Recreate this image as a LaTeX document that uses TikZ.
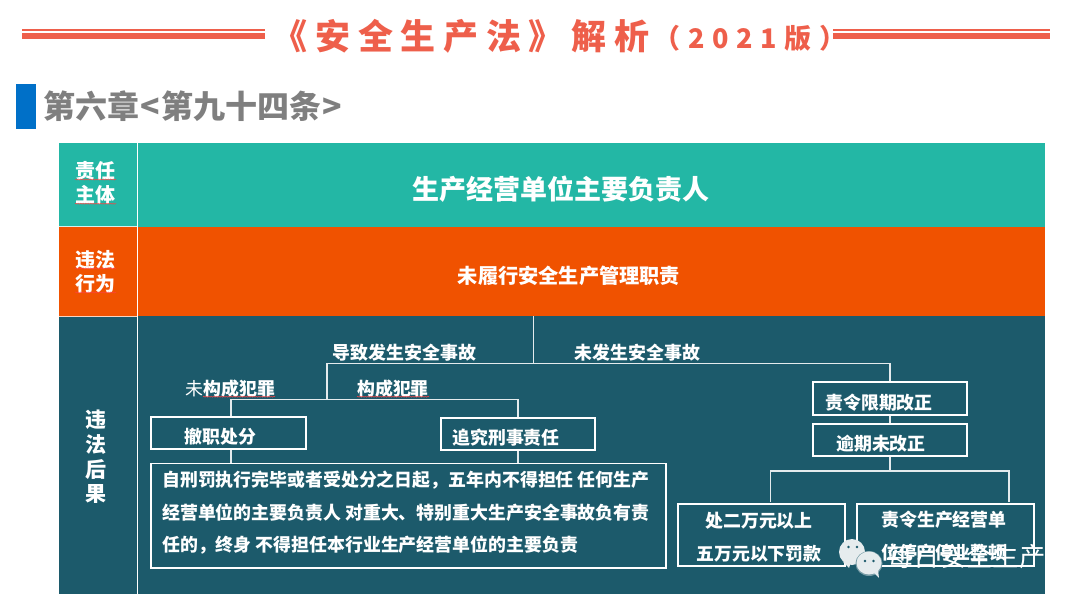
\documentclass[tikz,border=0pt]{standalone}
\usepackage{fontspec}
\setmainfont{Noto Sans CJK SC}
\usetikzlibrary{decorations.pathmorphing}
\definecolor{titlered}{HTML}{EE5F4B}
\definecolor{headgray}{HTML}{7F7F7F}
\definecolor{headblue}{HTML}{0070C8}
\definecolor{rowteal}{HTML}{23B7A5}
\definecolor{roworange}{HTML}{F05200}
\definecolor{rowdark}{HTML}{1C5A6B}
\definecolor{wechat}{HTML}{E6ECEE}
\newcommand{\fs}[1]{\fontsize{#1}{#1}\selectfont}
\newcommand{\fsl}[2]{\fontsize{#1}{#2}\selectfont}
\tikzset{
    cell/.style={anchor=north west, inner sep=0pt, outer sep=0pt},
    txt/.style={inner sep=0pt, text=white, font=\fs{17.9}\bfseries},
    sidetxt/.style={txt, font=\fsl{20}{24.5}\bfseries, align=center},
    resbox/.style={draw=white, line width=1.8pt, inner sep=0pt},
    link/.style={draw=white!88!rowdark, line width=1.6pt},
    squig/.style={draw=red!75, line width=.5pt, decorate, decoration={snake, segment length=2.5pt, amplitude=.5pt}}
}
\begin{document}
\begin{tikzpicture}[x=1pt,y=-1pt]
    \useasboundingbox (0,0) rectangle (1080,607);
    % title
    \fill[titlered] (22,29.5) rectangle (265,31);
    \fill[titlered] (22,33) rectangle (265,38.7);
    \fill[titlered] (833,29.5) rectangle (1050,31);
    \fill[titlered] (833,33) rectangle (1050,38.7);
    \node[inner sep=0pt, text=titlered, font=\fs{35}\bfseries\addfontfeature{LetterSpace=22}] (title) at (461,36) {《安全生产法》解析};
    \node[inner sep=0pt, text=titlered, font=\fs{27}\bfseries\addfontfeature{LetterSpace=28}] (edition) at (750,38) {（2021版）};
    % chapter
    \fill[headblue] (15.5,84.5) rectangle (35.5,129);
    \node[anchor=west, inner sep=0pt, text=headgray, font=\fs{32}\bfseries] (chapter) at (43,106) {第六章\hspace{1.4pt}<\hspace{1.4pt}第九十四条\hspace{1.4pt}>};
    % rows
    \node[cell, fill=rowteal, minimum width=78, minimum height=84] (subjcell) at (59,143) {};
    \node[cell, fill=rowteal, minimum width=907.5, minimum height=84] (subjbar) at (137.5,143) {};
    \node[cell, fill=roworange, minimum width=78, minimum height=89] (actcell) at (59,227) {};
    \node[cell, fill=roworange, minimum width=907.5, minimum height=89] (actbar) at (137.5,227) {};
    \node[cell, fill=rowdark, minimum width=78, minimum height=278] (resultcell) at (59,316) {};
    \node[cell, fill=rowdark, minimum width=907.5, minimum height=278] (resultbar) at (137.5,316) {};
    \draw[white!80!rowteal, line width=1pt] (59,227) -- (137,227);
    \draw[white!75!roworange, line width=1pt] (59,316) -- (137,316);
    \node[sidetxt] (subjtxt) at (95,183) {责任\\主体};
    \node[sidetxt] (acttxt) at (95,272) {违法\\行为};
    \node[sidetxt, font=\fsl{21}{24.7}\bfseries] (resulttxt) at (96,457) {违\\法\\后\\果};
    \node[txt, font=\fs{27}\bfseries] (subjname) at (561,189) {生产经营单位主要负责人};
    \node[txt, font=\fs{20.2}\bfseries] (actname) at (569,276) {未履行安全生产管理职责};
    % boxes
    \node[resbox, minimum width=154.5, minimum height=32.5] (dismiss) at (228.5,433) {};
    \node[resbox, minimum width=154.7, minimum height=32.5] (criminal) at (518,434) {};
    \node[resbox, minimum width=514.7, minimum height=104.5] (banbox) at (408.7,515.7) {};
    \node[resbox, minimum width=154.4, minimum height=33.3] (order) at (889.8,398.6) {};
    \node[resbox, minimum width=154.4, minimum height=32.3] (overdue) at (889.8,439.8) {};
    \node[resbox, minimum width=167, minimum height=62] (fine) at (761.5,535) {};
    \node[resbox, minimum width=177.3, minimum height=62] (halt) at (945.3,535) {};
    % tree
    \coordinate (split) at (533.5,363.3);
    \coordinate (acc) at (326.7,363.3);
    \coordinate (noacc) at (889.8,363.3);
    \coordinate (crime) at (326.7,399.3);
    \coordinate (crimeL) at (230.7,399.3);
    \coordinate (crimeR) at (518,399.3);
    \coordinate (fork) at (889.8,471);
    \coordinate (forkL) at (770.6,471);
    \coordinate (forkR) at (1008.8,471);
    \coordinate (fineup) at (770.6,502);
    \coordinate (haltup) at (1008.8,502);
    \draw[link] (resultbar.north -| split) -- (split);
    \draw[link] (crime) -- (acc) -- (noacc) -- (order.north);
    \draw[link] (dismiss.north -| crimeL) -- (crimeL) -- (crimeR) -- (criminal.north);
    \draw[link] (dismiss.south -| crimeL) -- (banbox.north -| crimeL);
    \draw[link] (criminal.south) -- (banbox.north -| criminal.south);
    \draw[link] (order.south) -- (overdue.north);
    \draw[link] (overdue.south) -- (fork);
    \draw[link] (fineup) -- (forkL) -- (forkR) -- (haltup);
    % labels
    \node[txt] (acclabel) at (404.5,352.5) {导致发生安全事故};
    \node[txt] (noacclabel) at (637.5,352.5) {未发生安全事故};
    \node[txt] (nocrimelabel) at (230.5,388.5) {{\mdseries 未}构成犯罪};
    \node[txt] (crimelabel) at (393,388.5) {构成犯罪};
    \node[txt] (dismisstxt) at (220.5,436.5) {撤职处分};
    \node[txt] (criminaltxt) at (506,437.5) {追究刑事责任};
    \node[txt, anchor=west, align=left, font=\fsl{17.9}{32.5}\bfseries] (bantxt) at (162,513) {自刑罚执行完毕或者受处分之日起，五年内不得担任 任何生产\\经营单位的主要负责人 对重大、特别重大生产安全事故负有责\\任的，终身 不得担任本行业生产经营单位的主要负责};
    \node[txt] (ordertxt) at (879,402.5) {责令限期改正};
    \node[txt] (overduetxt) at (881,443.5) {逾期未改正};
    \node[txt, align=center, font=\fsl{17.9}{33}\bfseries] (finetxt) at (759,537) {处二万元以上\\五万元以下罚款};
    \node[txt, align=center, font=\fsl{17.9}{33}\bfseries] (halttxt) at (944,536) {责令生产经营单\\位停产停业整顿};
    % red spell-check marks
    \draw[squig] (75,179.5) -- (116,179.5);
    \draw[squig] (75,203.7) -- (116,203.7);
    \draw[squig] (75,268.5) -- (116,268.5);
    \draw[squig] (75,292.5) -- (116,292.5);
    \draw[squig] (203,396.7) -- (275,396.7);
    \draw[squig] (357,396.7) -- (429,396.7);
    % watermark
    \fill[wechat] (852,552) ellipse (13 and 13);
    \fill[wechat] (843,562) -- (849,568) -- (851,562) -- cycle;
    \fill[rowdark] (848.5,547) circle (1.4);
    \fill[rowdark] (857,547) circle (1.4);
    \fill[rowdark!60!white] (869,563.5) ellipse (13.5 and 12.5);
    \fill[wechat] (869,563) ellipse (12.5 and 11.5);
    \fill[wechat] (873,572) -- (879,578) -- (878,570) -- cycle;
    \fill[rowdark] (865,561) circle (1.4);
    \fill[rowdark] (873.5,561) circle (1.4);
    \node[inner sep=0pt, text=white, font=\fs{26.3}] (mark) at (966.5,556) {每日安全生产};
\end{tikzpicture}
\end{document}
